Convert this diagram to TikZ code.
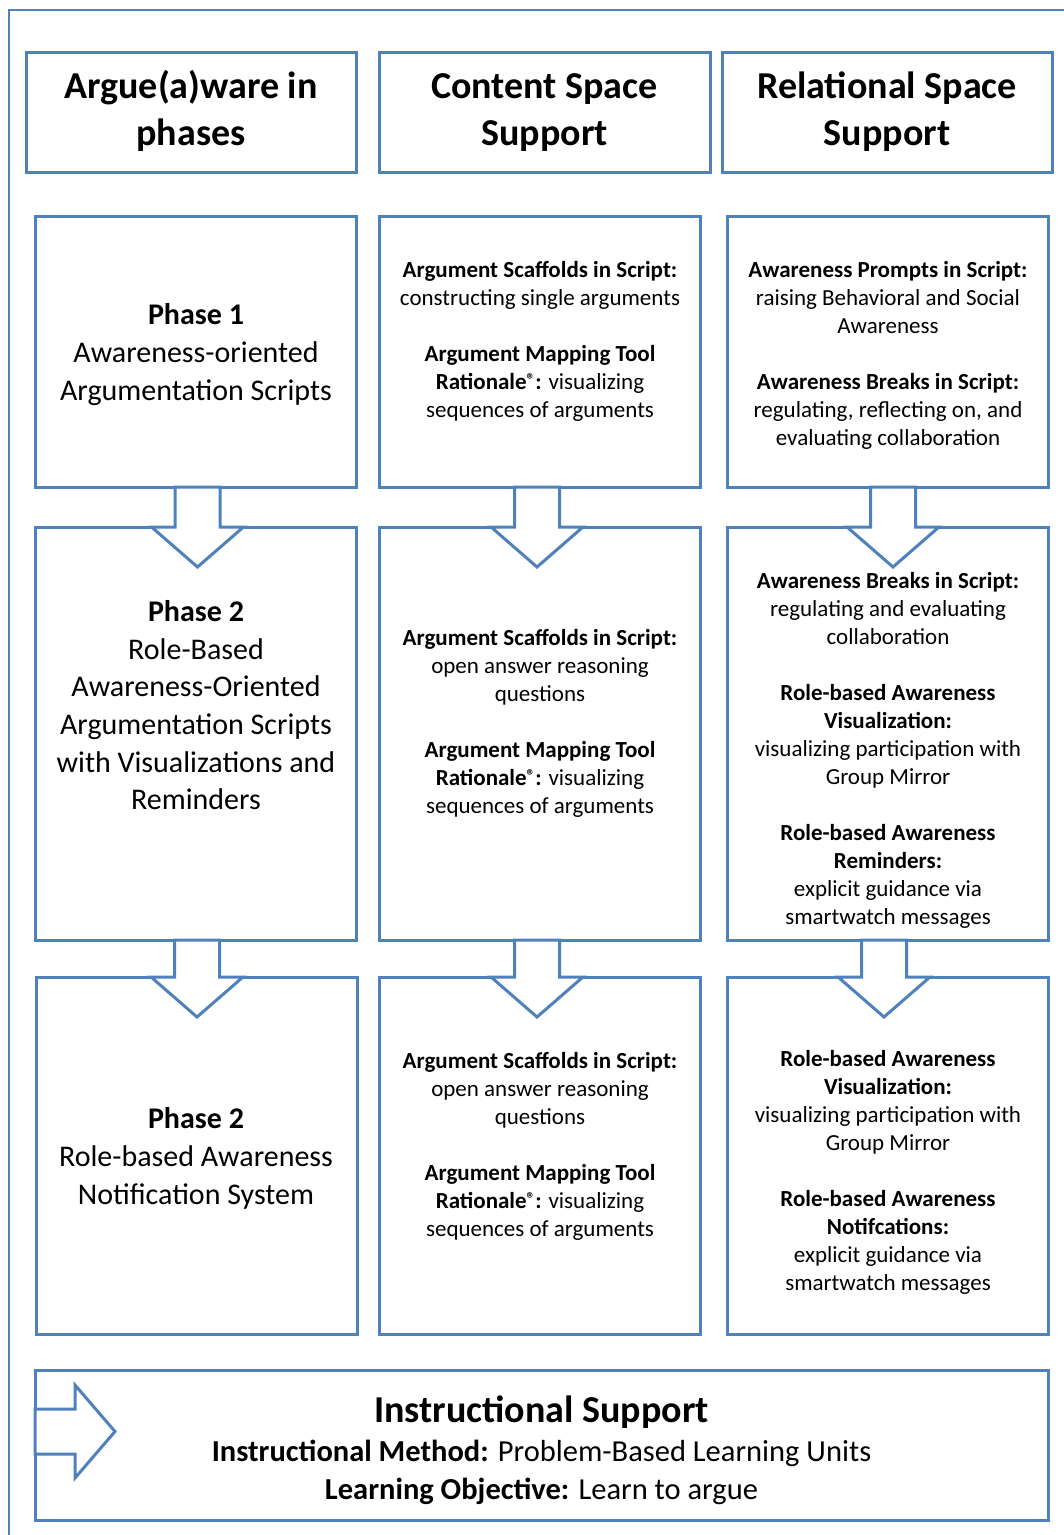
\documentclass[tikz,border=0pt]{standalone}
\usepackage{fontspec}
\setmainfont{Carlito}
\usetikzlibrary{calc}
\definecolor{panelblue}{RGB}{79,129,189}

% small raised registered sign
\newcommand\regsym{\raisebox{4pt}{\fontsize{17}{17}\selectfont ®}}
% struts fixing the height of the first line of each text block
\newcommand\strutS{\rule{0pt}{19pt}}
\newcommand\strutM{\rule{0pt}{25pt}}
\newcommand\strutL{\rule{0pt}{32pt}}

% hollow block arrow pointing down from panel #1 into panel #2, centred at x=#3
\newcommand\phasearrow[3]{%
  \draw[blockarrow] let \p1=(#1.south), \p2=(#2.north) in
    (#3pt-22.5pt,\y1) -- (#3pt-22.5pt,\y2) -- (#3pt-46pt,\y2) -- (#3pt,\y2-40pt)
    -- (#3pt+46pt,\y2) -- (#3pt+22.5pt,\y2) -- (#3pt+22.5pt,\y1) -- cycle;}

\begin{document}
\begin{tikzpicture}[x=1pt,y=-1pt,
  panel/.style={draw=panelblue, line width=3pt, rectangle, inner sep=0pt, outer sep=0pt},
  blockarrow/.style={draw=panelblue, line width=3pt, fill=white},
  frameline/.style={draw=panelblue, line width=2.5pt},
  headtxt/.style={font=\fontsize{38}{47}\selectfont\bfseries, align=center, anchor=north, inner sep=0pt},
  phasetxt/.style={font=\fontsize{30}{38}\selectfont, align=center, anchor=north, inner sep=0pt},
  celltxt/.style={font=\fontsize{23}{28}\selectfont, align=center, anchor=north, inner sep=0pt},
  bottitle/.style={font=\fontsize{38}{47}\selectfont\bfseries, anchor=base, inner sep=0pt},
  botbody/.style={font=\fontsize{30.5}{38}\selectfont, align=center, anchor=north, inner sep=0pt},
]
\useasboundingbox (0,0) rectangle (1064,1535);

% outer frame (left and top edges)
\draw[frameline] (9,1535) -- (9,10) -- (1064,10);

% column headers
\node[panel, minimum width=330, minimum height=120] (h1) at (191,112) {};
\node[panel, minimum width=331, minimum height=120] (h2) at (544.5,112) {};
\node[panel, minimum width=330, minimum height=120] (h3) at (887,112) {};

% phase rows
\node[panel, minimum width=321, minimum height=271] (l1) at (195.5,351.5) {};
\node[panel, minimum width=321, minimum height=271] (m1) at (539.5,351.5) {};
\node[panel, minimum width=321, minimum height=271] (r1) at (887.5,351.5) {};

\node[panel, minimum width=321, minimum height=413] (l2) at (195.5,733.5) {};
\node[panel, minimum width=321, minimum height=413] (m2) at (539.5,733.5) {};
\node[panel, minimum width=321, minimum height=413] (r2) at (887.5,733.5) {};

\node[panel, minimum width=321, minimum height=357] (l3) at (196.5,1155.5) {};
\node[panel, minimum width=321, minimum height=357] (m3) at (539.5,1155.5) {};
\node[panel, minimum width=321, minimum height=357] (r3) at (887.5,1155.5) {};

% instructional support panel
\node[panel, minimum width=1013, minimum height=150] (bot) at (541.5,1445) {};

% arrows between phases
\phasearrow{l1}{l2}{197.5}
\phasearrow{m1}{m2}{537}
\phasearrow{r1}{r2}{893}
\phasearrow{l2}{l3}{197}
\phasearrow{m2}{m3}{537}
\phasearrow{r2}{r3}{884}

% arrow entering the instructional support panel
\draw[blockarrow] let \p1=(bot.west) in
  (\x1,\y1+36pt) -- (\x1+40pt,\y1+36pt) -- (\x1+40pt,\y1+60pt) -- (\x1+80pt,\y1+13.5pt)
  -- (\x1+40pt,\y1-33pt) -- (\x1+40pt,\y1-9pt) -- (\x1,\y1-9pt) -- cycle;

% header texts
\node[headtxt] (th1) at (191,66) {\strutL Argue(a)ware in\\ phases};
\node[headtxt] (th2) at (544.5,66) {\strutL Content Space\\ Support};
\node[headtxt] (th3) at (887,66) {\strutL Relational Space\\ Support};

% phase descriptions
\node[phasetxt] (tl1) at (196,299.5) {\strutM\textbf{Phase 1}\\ Awareness-oriented\\ Argumentation Scripts};
\node[phasetxt, font=\fontsize{30}{37.6}\selectfont] (tl2) at (196,596.5) {\strutM\textbf{Phase 2}\\ Role-Based\\ Awareness-Oriented\\ Argumentation Scripts\\ with Visualizations and\\ Reminders};
\node[phasetxt] (tl3) at (196,1103.5) {\strutM\textbf{Phase 2}\\ Role-based Awareness\\ Notification System};

% content space support
\node[celltxt] (tm1) at (540,258) {\strutS\textbf{Argument Scaffolds in Script:}\\ constructing single arguments\\[28pt]
  \textbf{Argument Mapping Tool}\\ \textbf{Rationale\regsym:} visualizing\\ sequences of arguments};
\node[celltxt] (tm2) at (540,626) {\strutS\textbf{Argument Scaffolds in Script:}\\ open answer reasoning\\ questions\\[28pt]
  \textbf{Argument Mapping Tool}\\ \textbf{Rationale\regsym:} visualizing\\ sequences of arguments};
\node[celltxt] (tm3) at (540,1049) {\strutS\textbf{Argument Scaffolds in Script:}\\ open answer reasoning\\ questions\\[28pt]
  \textbf{Argument Mapping Tool}\\ \textbf{Rationale\regsym:} visualizing\\ sequences of arguments};

% relational space support
\node[celltxt] (tr1) at (888,258) {\strutS\textbf{Awareness Prompts in Script:}\\ raising Behavioral and Social\\ Awareness\\[28pt]
  \textbf{Awareness Breaks in Script:}\\ regulating, reflecting on, and\\ evaluating collaboration};
\node[celltxt] (tr2) at (888,569) {\strutS\textbf{Awareness Breaks in Script:}\\ regulating and evaluating\\ collaboration\\[28pt]
  \textbf{Role-based Awareness}\\ \textbf{Visualization:}\\ visualizing participation with\\ Group Mirror\\[28pt]
  \textbf{Role-based Awareness}\\ \textbf{Reminders:}\\ explicit guidance via\\ smartwatch messages};
\node[celltxt] (tr3) at (888,1047) {\strutS\textbf{Role-based Awareness}\\ \textbf{Visualization:}\\ visualizing participation with\\ Group Mirror\\[28pt]
  \textbf{Role-based Awareness}\\ \textbf{Notifcations:}\\ explicit guidance via\\ smartwatch messages};

% instructional support texts
\node[bottitle] (tb1) at (541.5,1422) {Instructional Support};
\node[botbody] (tb2) at (541.5,1436.5) {\strutM\textbf{Instructional Method:} Problem-Based Learning Units\\
  \textbf{Learning Objective:} Learn to argue};
\end{tikzpicture}
\end{document}
